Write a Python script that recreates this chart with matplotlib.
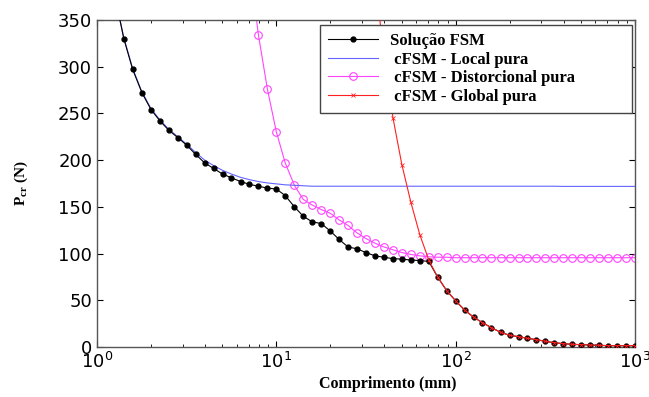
import numpy as np
import matplotlib
matplotlib.use('Agg')
import matplotlib.pyplot as plt

# comprimento (mm) - grelha comum
comp = [1.26, 1.41, 1.58, 1.78, 2.00, 2.24, 2.51, 2.82, 3.16, 3.55,
        3.98, 4.47, 5.01, 5.62, 6.31, 7.08, 7.94, 8.91, 10.0, 11.2,
        12.6, 14.1, 15.8, 17.8, 20.0, 22.4, 25.1, 28.2, 31.6, 35.5,
        39.8, 44.7, 50.1, 56.2, 63.1, 70.8, 79.4, 89.1, 100, 112,
        126, 141, 158, 178, 200, 224, 251, 282, 316, 355,
        398, 447, 501, 562, 631, 708, 794, 891, 1000]

# Solucao FSM
fsm = [375, 330, 297, 272, 254, 242, 232, 224, 216, 206,
       197, 191, 185, 181, 177, 174, 172, 170, 169, 162,
       150, 140, 134, 132, 124, 115, 107, 105, 101, 97.5,
       96, 94.5, 94, 93, 92.5, 91.5, 74.6, 60.3, 49.3, 39.6,
       31.8, 26, 20.7, 15.7, 12.5, 11, 9.3, 7.8, 6.1, 4.6,
       3.5, 2.8, 2.5, 2.1, 1.8, 1.4, 1.4, 1.4, 1.4]

# cFSM - Local pura
local = [375, 331, 298, 273, 255, 243, 233, 225, 217, 208,
         200, 194, 189, 185, 181.5, 179, 177, 175.5, 174.5, 173.5,
         173, 172.5, 172, 172, 172, 172, 172, 172, 172, 172,
         172, 172, 172, 172, 172, 172, 172, 172, 172, 172,
         172, 172, 172, 172, 172, 172, 172, 172, 172, 172,
         171.8, 171.8, 171.8, 171.8, 171.8, 171.8, 171.8, 171.8, 171.8]

# cFSM - Distorcional pura (a partir de 7.08 mm)
dist_comp = comp[15:]
dist = [410, 334, 276, 230, 197, 173, 158, 152, 147, 143,
        136, 130, 122, 116, 111, 107, 104, 101, 99, 97.5,
        96.5, 96, 96, 95.5, 95.5, 95.5, 95.5, 95.5, 95.5, 95.5,
        95.5, 95.5, 95.5, 95.5, 95.5, 95.5, 95.5, 95.5, 95.5, 95.5,
        95.5, 95.5, 95.5, 95.5]

# cFSM - Global pura (a partir de 35.5 mm)
glob_comp = comp[29:]
glob = [390, 315, 245, 195, 155, 120, 93, 74.6, 60.3, 49.3,
        39.6, 31.8, 26, 20.7, 15.7, 12.5, 11, 9.3, 7.8, 6.1,
        4.6, 3.5, 2.8, 2.5, 2.1, 1.8, 1.4, 1.4, 1.4, 1.4]

plt.rcParams['font.family'] = 'DejaVu Sans'
serif_bold = {'family': 'Liberation Serif', 'weight': 'bold'}

fig = plt.figure(figsize=(6.49, 3.97), dpi=100)
ax = fig.add_axes([0.1495, 0.126, 0.829, 0.824])

ax.plot(comp, fsm, '-', color='black', lw=0.8, marker='o', ms=3.5,
        mfc='black', mec='black', label='Solução FSM', zorder=4)
ax.plot(comp, local, '-', color='#6464ff', lw=0.8, label=' cFSM - Local pura', zorder=3)
ax.plot(dist_comp, dist, '-', color='#ff44ff', lw=0.8, marker='o', ms=5.5,
        mfc='none', mec='#ff44ff', mew=0.8, label=' cFSM - Distorcional pura', zorder=2)
ax.plot(glob_comp, glob, '-', color='#ff2020', lw=0.8, marker='x', ms=2.5,
        mew=0.6, label=' cFSM - Global pura', zorder=5)

ax.set_xscale('log')
ax.set_xlim(1, 1000)
ax.set_ylim(0, 350)
ax.set_yticks(np.arange(0, 351, 50))
ax.tick_params(which='both', direction='in', top=True, right=True, labelsize=13)
ax.tick_params(which='major', length=4)
ax.tick_params(which='minor', length=2.5)
for s in ax.spines.values():
    s.set_color('#555555')
    s.set_linewidth(1.0)

ax.set_xlabel('Comprimento (mm)', fontdict=serif_bold, fontsize=11.5)
ax.xaxis.set_label_coords(0.54, -0.088)
ax.set_ylabel(r'P$_{\mathregular{cr}}$ (N)', fontdict=serif_bold, fontsize=11)
ax.yaxis.set_label_coords(-0.125, 0.5)

leg = ax.legend(loc='upper left', bbox_to_anchor=(0.4145, 0.70, 0.58, 0.285),
                mode='expand', borderaxespad=0,
                prop={'family': 'Liberation Serif', 'weight': 'bold', 'size': 12},
                handlelength=3.0, handletextpad=0.7, labelspacing=0.15, borderpad=0.5,
                fancybox=False, framealpha=1, edgecolor='#444444')
leg.get_frame().set_linewidth(1.0)

fig.savefig('out.png', dpi=100)
